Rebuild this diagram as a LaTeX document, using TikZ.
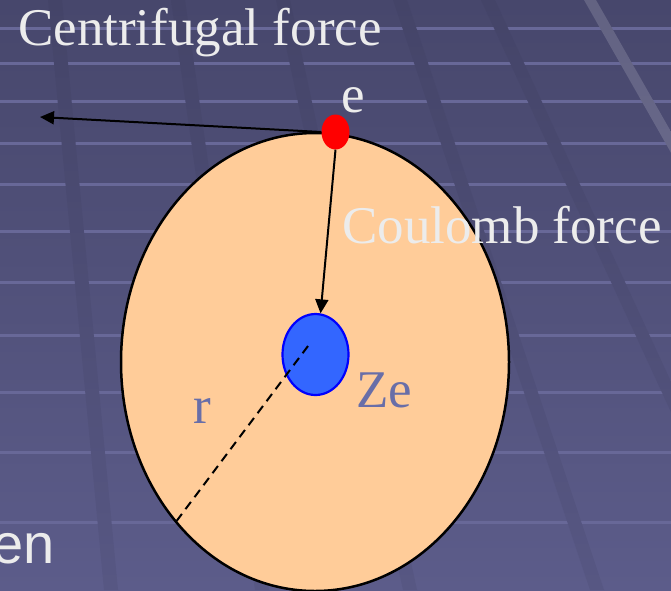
\documentclass[tikz,border=0pt]{standalone}
\usepackage{fontspec}
\newfontfamily\tms{Liberation Serif}
\newfontfamily\arl{Liberation Sans}
\usetikzlibrary{arrows.meta, shapes.geometric, positioning}
\definecolor{bgtop}{RGB}{71,71,108}
\definecolor{bgbot}{RGB}{92,92,138}
\definecolor{bandtop}{RGB}{68,68,104}
\definecolor{bandbot}{RGB}{87,87,131}
\definecolor{gridln}{RGB}{104,104,152}
\definecolor{peach}{RGB}{255,204,153}
\definecolor{nucblue}{RGB}{51,102,255}
\definecolor{slate}{RGB}{104,110,168}
\definecolor{txtw}{RGB}{236,236,236}
\tikzset{
  orbit/.style={ellipse, draw=black, line width=2.5pt, fill=peach,
                minimum width=388pt, minimum height=458pt, inner sep=0pt},
  elec/.style={ellipse, fill=red, minimum width=28pt, minimum height=35pt,
               inner sep=0pt},
  nucl/.style={ellipse, draw=blue, line width=2.2pt, fill=nucblue,
               minimum width=66pt, minimum height=81pt, inner sep=0pt},
  lbl/.style={inner sep=0pt, anchor=base west, text=txtw,
              font=\tms\fontsize{53}{60}\selectfont},
  arr/.style={-{Triangle[length=14pt, width=13pt]}, line width=2pt},
  band/.style={top color=bandtop, bottom color=bandbot},
  gline/.style={draw=gridln, line width=3pt}
}
\begin{document}
\begin{tikzpicture}[x=1pt, y=-1pt]
  \clip (0,0) rectangle (671,590);
  \shade[top color=bgtop, bottom color=bgbot] (0,0) rectangle (671,590);
  \foreach \y in {28,63,101,143,184,231,282,335,392,452,522}
    \draw[gline] (0,\y) -- (671,\y);
  \foreach \a/\b in {55/111, 178/262, 283/410, 400/597, 488/760}
    \shade[band] (\a-7,0) -- (\a+7,0) -- (\b+7,590) -- (\b-7,590) -- cycle;
  \shade[top color=bgtop!85!white, bottom color=bgbot!85!white]
    (584,0) -- (596,0) -- (932,590) -- (920,590) -- cycle;

  \node[orbit] (orbit) at (315,362) {};
  \node[nucl] (nucl) at (315.5,354.5) {};
  \node[elec] (elec) at (335.5,132) {};
  \coordinate (cftip) at (40,117);
  \coordinate (rstart) at (308,346);

  \draw[arr] (elec.west) -- (cftip);
  \draw[arr] (elec.south) -- (nucl.83);
  \draw[line width=2pt, dash pattern=on 9pt off 6pt] (rstart) -- (orbit.229);

  \node[lbl] (cflbl) at (18,45) {Centrifugal force};
  \node[lbl] (elbl) at (341,112) {e};
  \node[lbl] (cblbl) at (342,243) {Coulomb force};
  \node[lbl, text=slate] (zlbl) at (356,407) {Ze};
  \node[lbl, text=slate] (rlbl) at (193,423) {r};
  \node[lbl, font=\arl\fontsize{56}{64}\selectfont] (enlbl) at (-8,563) {en};
\end{tikzpicture}
\end{document}
